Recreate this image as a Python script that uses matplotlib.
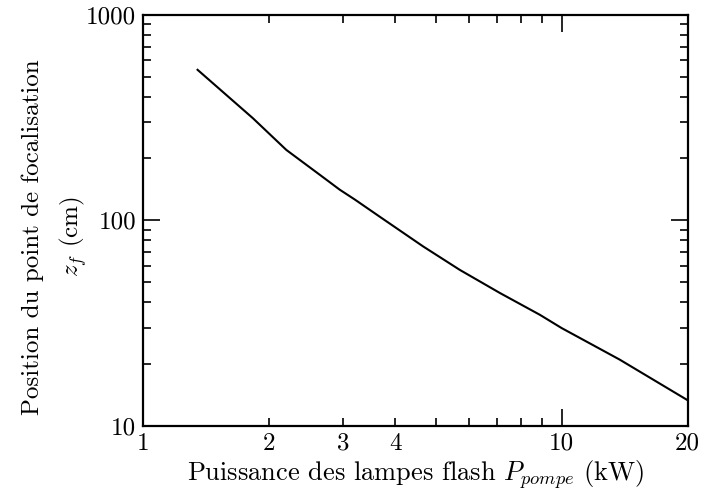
import matplotlib
matplotlib.use('Agg')
import matplotlib.pyplot as plt

# Courbe (puissance en kW, position en cm)
puissance = [1.35, 1.83, 2.2, 2.65, 2.95, 3.21, 3.68, 4.67, 5.71, 7.12, 8.87, 10.0, 13.76, 19.9]
position = [540, 314, 220, 166, 141, 126, 104, 74.6, 57.4, 44.3, 34.7, 29.9, 21.0, 13.4]

x_major = [1, 10]
x_minor = [2, 3, 4, 5, 6, 7, 8, 9, 20]
x_minor_labels = ['2', '3', '4', '', '', '', '', '', '20']
y_major = [10, 100, 1000]

plt.rcParams['font.family'] = ['cmr10', 'DejaVu Serif']
plt.rcParams['mathtext.fontset'] = 'cm'
plt.rcParams['axes.formatter.use_mathtext'] = True

fig = plt.figure(figsize=(7.01, 4.94), dpi=100)
ax = fig.add_axes([0.204, 0.138, 0.777, 0.832])

ax.plot(puissance, position, color='black', linewidth=1.5)

ax.set_xscale('log')
ax.set_yscale('log')
ax.set_xlim(1, 20)
ax.set_ylim(10, 1000)

ax.set_xticks(x_major, labels=[str(v) for v in x_major])
ax.set_xticks(x_minor, labels=x_minor_labels, minor=True)
ax.set_yticks(y_major, labels=[str(v) for v in y_major])

ax.tick_params(which='both', direction='in', top=True, right=True, labelsize=18, width=1.2)
ax.tick_params(which='major', length=12, pad=5)
ax.tick_params(which='minor', length=6, pad=5)
for s in ax.spines.values():
    s.set_linewidth(1.6)

ax.set_xlabel(r'Puissance des lampes flash $P_{pompe}$ (kW)', fontsize=19, labelpad=2)
ax.set_ylabel('Position du point de focalisation\n' + r'$z_f$ (cm)', fontsize=18,
              linespacing=1.6)
ax.yaxis.set_label_coords(-0.10, 0.46)

fig.savefig('out.png', dpi=100)
